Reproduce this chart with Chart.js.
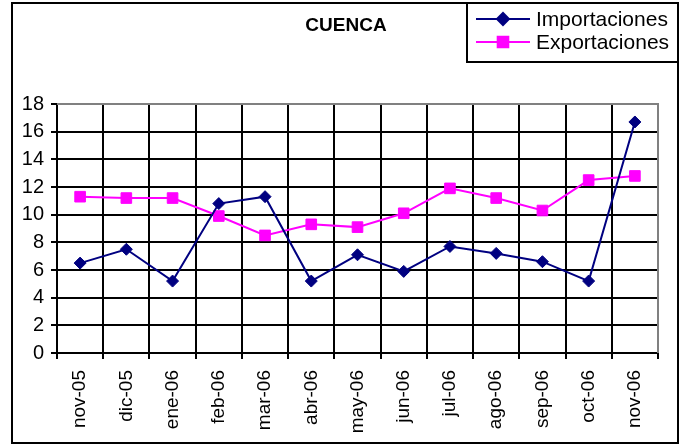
<!DOCTYPE html>
<html>
<head>
<meta charset="utf-8">
<script src="https://cdn.jsdelivr.net/npm/chart.js"></script>
<style>
  html, body { margin: 0; padding: 0; background: #fff; }
  canvas { display: block; }
</style>
</head>
<body>
<canvas id="grafico" width="686" height="448"></canvas>
<script>
// Datos
const meses = ['nov-05', 'dic-05', 'ene-06', 'feb-06', 'mar-06', 'abr-06', 'may-06',
               'jun-06', 'jul-06', 'ago-06', 'sep-06', 'oct-06', 'nov-06'];
const importaciones = [6.5, 7.5, 5.2, 10.8, 11.3, 5.2, 7.1, 5.9, 7.7, 7.2, 6.6, 5.2, 16.7];
const exportaciones = [11.3, 11.2, 11.2, 9.9, 8.5, 9.3, 9.1, 10.1, 11.9, 11.2, 10.3, 12.5, 12.8];
const titulo = 'CUENCA';

const fuente = "'Liberation Sans', Arial, sans-serif";

// Marco exterior, título, borde gris del área y leyenda
const decoracion = {
    id: 'decoracion',
    beforeDatasetsDraw(chart) {
        const { ctx, chartArea } = chart;
        ctx.save();
        ctx.strokeStyle = '#808080';
        ctx.lineWidth = 2;
        ctx.beginPath();
        ctx.moveTo(chartArea.left, chartArea.top);
        ctx.lineTo(chartArea.right, chartArea.top);
        ctx.lineTo(chartArea.right, chartArea.bottom);
        ctx.stroke();
        ctx.restore();
    },
    afterDraw(chart) {
        const ctx = chart.ctx;
        ctx.save();
        // marco exterior
        ctx.strokeStyle = '#000';
        ctx.lineWidth = 2;
        ctx.strokeRect(12, 3, 666, 440);

        // título
        ctx.fillStyle = '#000';
        ctx.font = 'bold 19px ' + fuente;
        ctx.textAlign = 'center';
        ctx.textBaseline = 'middle';
        ctx.fillText(titulo, 346, 26);

        // leyenda
        ctx.fillStyle = '#fff';
        ctx.fillRect(467, 3, 211, 59);
        ctx.strokeRect(467, 3, 211, 59);
        ctx.font = '21px ' + fuente;
        ctx.textAlign = 'left';
        chart.data.datasets.forEach((ds, i) => {
            const y = 19 + i * 23;
            ctx.strokeStyle = ds.borderColor;
            ctx.lineWidth = 2;
            ctx.beginPath();
            ctx.moveTo(476, y);
            ctx.lineTo(530, y);
            ctx.stroke();
            Chart.helpers.drawPoint(ctx, {
                pointStyle: ds.pointStyle,
                radius: ds.pointRadius,
                borderWidth: 1
            }, 503, y);
            ctx.fillStyle = ds.backgroundColor;
            ctx.strokeStyle = ds.borderColor;
            ctx.fill();
            ctx.fillStyle = '#000';
            ctx.fillText(ds.label, 536, y + 1);
        });
        ctx.restore();
    }
};

new Chart(document.getElementById('grafico').getContext('2d'), {
    type: 'line',
    data: {
        labels: meses,
        datasets: [
            {
                label: 'Importaciones',
                data: importaciones,
                borderColor: '#000080',
                backgroundColor: '#000080',
                borderWidth: 2,
                pointStyle: 'rectRot',
                pointRadius: 6,
                pointBorderWidth: 1,
                tension: 0
            },
            {
                label: 'Exportaciones',
                data: exportaciones,
                borderColor: '#ff00ff',
                backgroundColor: '#ff00ff',
                borderWidth: 2,
                pointStyle: 'rect',
                pointRadius: 7.5,
                pointBorderWidth: 1,
                tension: 0
            }
        ]
    },
    options: {
        responsive: false,
        animation: false,
        layout: { padding: { top: 104, right: 28, bottom: 0, left: 0 } },
        plugins: {
            legend: { display: false },
            title: { display: false },
            tooltip: { enabled: false }
        },
        scales: {
            x: {
                offset: true,
                grid: { offset: true, color: '#000', lineWidth: 2, tickLength: 6 },
                border: { color: '#000', width: 2 },
                ticks: {
                    color: '#000',
                    font: { family: fuente, size: 19 },
                    minRotation: 90,
                    maxRotation: 90,
                    padding: 11,
                    autoSkip: false
                },
                afterFit(scale) { scale.height = 95; }
            },
            y: {
                min: 0,
                max: 18,
                grid: { color: '#000', lineWidth: 2, tickLength: 6 },
                border: { color: '#000', width: 2 },
                ticks: {
                    stepSize: 2,
                    color: '#000',
                    font: { family: fuente, size: 20 },
                    padding: 7
                },
                afterFit(scale) { scale.width = 57; }
            }
        }
    },
    plugins: [decoracion]
});
</script>
</body>
</html>
